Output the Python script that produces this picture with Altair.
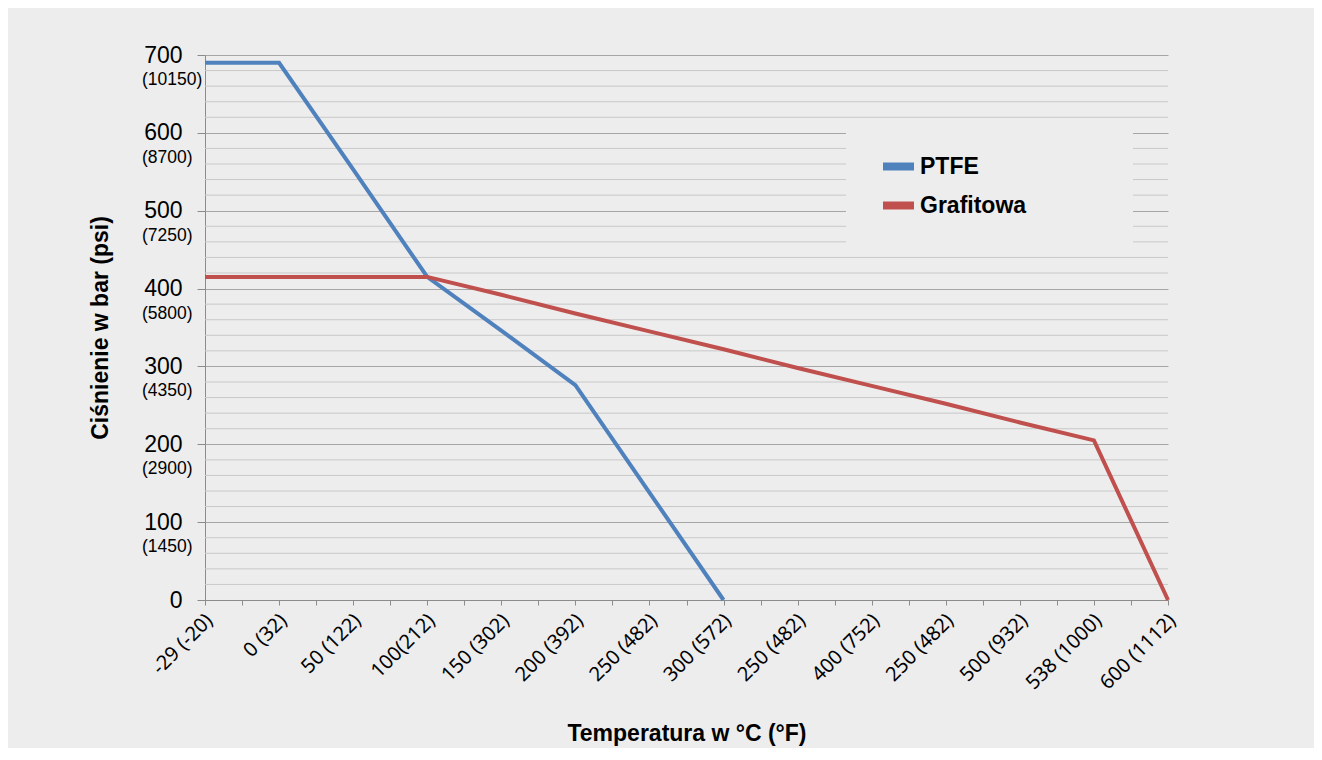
import json
import altair as alt
import pandas as pd

# ---- data ----
x_labels = ["-29 (-20)", "0 (32)", "50 (122)", "100(212)", "150 (302)", "200 (392)",
            "250 (482)", "300 (572)", "250 (482)", "400 (752)", "250 (482)", "500 (932)",
            "538 (1000)", "600 (1112)"]
ptfe_values = [690, 690, 553, 415, 346, 276, 138, 0]
grafit_values = [415, 415, 415, 415, 392, 368, 345, 322, 298, 275, 252, 228, 205, 0]
series_names = ["PTFE", "Grafitowa"]
series_colors = ["#4f81bd", "#c0504d"]

y_major = [0, 100, 200, 300, 400, 500, 600, 700]
y_minor = [v for v in range(20, 700, 20) if v % 100 != 0]
psi_values = [100, 200, 300, 400, 500, 600, 700]
psi_labels = ["(1450)", "(2900)", "(4350)", "(5800)", "(7250)", "(8700)", "(10150)"]

# ---- tables ----
rows = [{"i": i, "v": v, "s": "PTFE"} for i, v in enumerate(ptfe_values)]
rows += [{"i": i, "v": v, "s": "Grafitowa"} for i, v in enumerate(grafit_values)]
df = pd.DataFrame(rows)
minor_df = pd.DataFrame({"v": y_minor})
psi_df = pd.DataFrame({"v": psi_values, "t": psi_labels})

x_scale = alt.Scale(domain=[0, len(x_labels) - 1], nice=False, zero=False)
y_scale = alt.Scale(domain=[0, 700], nice=False)

FONT = "Liberation Sans"
label_js = json.dumps(x_labels)

x_axis = alt.Axis(
    values=[k / 2 for k in range(0, 2 * len(x_labels) - 1)],
    labelExpr=f"datum.value % 1 == 0 ? {label_js}[datum.value] : ''",
    labelAngle=-45, labelFont="Noto Sans", labelFontSize=20, labelColor="#000",
    labelPadding=5, labelOverlap=False, labelFlush=False, labelOffset=-3,
    tickSize=5, tickColor="#8c8c8c", domainColor="#8c8c8c", grid=False,
    title="Temperatura w °C (°F)", titleFont=FONT, titleFontSize=23,
    titleFontWeight="bold", titleColor="#000", titleY=133, titleBaseline="middle",
)
y_axis = alt.Axis(
    values=y_major, labelFont=FONT, labelFontSize=23, labelColor="#000",
    labelPadding=15, labelFlush=False, labelOverlap=False,
    tickSize=8, tickColor="#8c8c8c", domainColor="#8c8c8c",
    grid=True, gridColor="#a6a6a6",
    title="Ciśnienie w bar (psi)", titleFont=FONT, titleFontSize=23,
    titleFontWeight="bold", titleColor="#000", titleX=-105, titleY=272.5,
    titleBaseline="middle",
)

Y = alt.Y("v:Q", scale=y_scale, axis=y_axis)

minor = alt.Chart(minor_df).mark_rule(color="#c8c8c8", strokeWidth=1).encode(y=Y)

psi = alt.Chart(psi_df).mark_text(
    align="left", baseline="middle", font=FONT, fontSize=17.5, color="#000", dy=25
).encode(y=Y, x=alt.value(-63), text="t:N")

lines = alt.Chart(df).mark_line(strokeWidth=4).encode(
    x=alt.X("i:Q", scale=x_scale, axis=x_axis),
    y=Y,
    color=alt.Color(
        "s:N",
        scale=alt.Scale(domain=series_names, range=series_colors),
        sort=series_names,
        legend=alt.Legend(
            title="PTFE", titleOrient="right", titleFontSize=23, titleFont=FONT,
            titleFontWeight="bold", titleColor="#ededed", titleOpacity=0,
            titlePadding=21,
            orient="none", legendX=641, legendY=65,
            fillColor="#ededed", padding=27,
            symbolType="stroke", symbolSize=961, symbolStrokeWidth=8,
            labelFont=FONT, labelFontSize=23, labelFontWeight="bold", labelColor="#000",
            labelOffset=2, rowPadding=3, symbolOffset=6,
        ),
    ),
    order="i:Q",
)

chart = alt.layer(minor, psi, lines).properties(
    width=963, height=545,
    background="#ededed",
    padding={"left": 197, "top": 47, "right": 146, "bottom": 148},
    autosize=alt.AutoSizeParams(type="none"),
).configure_view(stroke=None)

chart.save("out.html", embed_options={"renderer": "svg", "actions": False})
